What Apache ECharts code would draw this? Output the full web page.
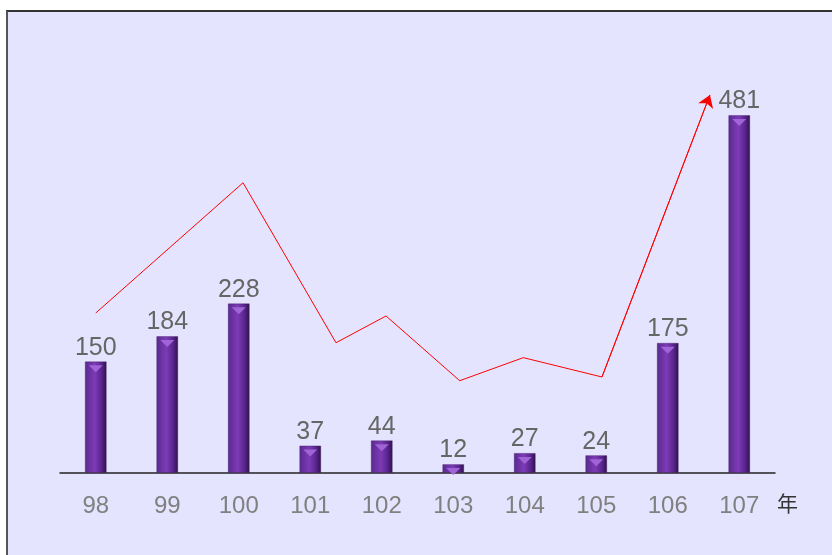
<!DOCTYPE html>
<html>
<head>
<meta charset="utf-8">
<script src="https://cdn.jsdelivr.net/npm/echarts@6/dist/echarts.min.js"></script>
<style>
  html, body { margin: 0; padding: 0; background: #fff; }
  #frame { position: absolute; left: 6px; top: 10px; right: 0; bottom: 0;
    background: #e4e4fe; border-left: 2px solid #555; border-top: 2px solid #333; }
  #main { position: absolute; left: 0; top: 0; width: 832px; height: 555px; }
</style>
</head>
<body>
<div id="frame"></div>
<div id="main"></div>
<script>
// 年度
const years = ['98', '99', '100', '101', '102', '103', '104', '105', '106', '107'];
// 件數
const counts = [150, 184, 228, 37, 44, 12, 27, 24, 175, 481];
// 趨勢線 (x 以類目索引計, y 以件數計)
const trendX = [0, 2.06, 3.36, 4.06, 5.09, 5.98, 7.08, 8.59];
const trendY = [215, 390, 175, 211, 124, 155, 129, 508];

const font = '"Liberation Sans", Arial, "Noto Sans CJK TC", sans-serif';
const myChart = echarts.init(document.getElementById('main'));

const barColor = new echarts.graphic.LinearGradient(0, 0, 1, 0, [
  { offset: 0, color: '#58298e' },
  { offset: 0.45, color: '#7d3bb6' },
  { offset: 0.75, color: '#5a2690' },
  { offset: 1, color: '#2f1048' }
]);

const trend = trendX.map((x, i) => [x, trendY[i]]);
const n = trend.length;

const option = {
  backgroundColor: 'transparent',
  textStyle: { fontFamily: font },
  animation: false,
  grid: { left: 60, right: 57, top: 86, bottom: 82 },
  xAxis: [
    {
      type: 'category',
      data: years,
      axisLine: { lineStyle: { color: '#222', width: 1.5 } },
      axisTick: { show: false },
      axisLabel: { color: '#808080', fontSize: 24, margin: 21, fontFamily: font },
      name: '{a|年}',
      nameLocation: 'end',
      nameGap: 2,
      nameTextStyle: {
        rich: { a: { color: '#333', fontSize: 21, padding: [64, 0, 0, 0] } }
      }
    },
    { type: 'value', min: -0.5, max: 9.5, show: false }
  ],
  yAxis: { type: 'value', min: 0, max: 520, show: false },
  series: [
    {
      type: 'bar',
      data: counts,
      barWidth: 22,
      itemStyle: { color: barColor, borderColor: 'rgba(60,20,90,0.35)', borderWidth: 1 },
      label: {
        show: true, position: 'top', distance: 1,
        color: '#666', fontSize: 25, fontFamily: font
      },
      z: 2
    },
    {
      type: 'pictorialBar',
      data: counts,
      symbol: 'triangle',
      symbolRotate: 180,
      symbolSize: [14, 7],
      symbolPosition: 'end',
      symbolOffset: [0, 4],
      itemStyle: { color: '#a064d6' },
      z: 3
    },
    {
      type: 'line',
      xAxisIndex: 1,
      data: trend,
      symbol: 'none',
      lineStyle: { color: '#ff0000', width: 1 },
      z: 4
    },
    {
      type: 'lines',
      coordinateSystem: 'cartesian2d',
      xAxisIndex: 1,
      symbol: ['none', 'arrow'],
      symbolSize: 12,
      lineStyle: { color: '#ff0000', width: 1, opacity: 1 },
      data: [{ coords: [trend[n - 2], trend[n - 1]] }],
      z: 4
    }
  ]
};
myChart.setOption(option);
</script>
</body>
</html>
